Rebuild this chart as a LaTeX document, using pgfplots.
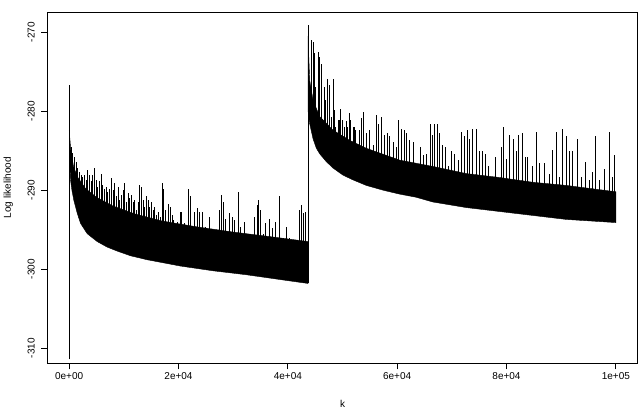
\documentclass[border=0pt]{standalone}
\usepackage{pgfplots}
\pgfplotsset{compat=1.18}
\usepackage{fontspec}
\setmainfont{Liberation Sans}
\begin{document}
\begin{tikzpicture}[font=\fontsize{10bp}{12bp}\selectfont]
\useasboundingbox (0,0) rectangle (644bp,418bp);
\begin{axis}[
  at={(47.3bp,54.7bp)}, anchor=south west,
  scale only axis, width=590.4bp, height=351bp,
  xmin=-4000, xmax=104000, ymin=-311.9, ymax=-267.5,
  axis line style={line width=0.75bp},
  tick pos=left, tick align=outside, major tick length=6bp,
  tick style={line width=0.75bp, black},
  xtick={0,20000,40000,60000,80000,100000},
  xticklabels={0e+00,2e+04,4e+04,6e+04,8e+04,1e+05},
  scaled x ticks=false,
  ytick={-310,-300,-290,-280,-270},
  yticklabels={-310,-300,-290,-280,-270},
  xticklabel style={anchor=north},
  yticklabel style={rotate=90, anchor=south},
  yticklabel shift=3bp,
  xlabel={k},
  xlabel style={at={(axis description cs:0.5,-0.1168)}, anchor=center},
  ylabel={Log likelihood},
  ylabel style={at={(axis description cs:-0.066,0.5)}, anchor=center},
  unbounded coords=jump,
  clip=true,
]
% dense band, first run
\addplot[fill=black, draw=black, line width=0.4bp] coordinates {
(6,-282.4) (300,-285) (800,-287) (1500,-288.3) (3000,-289.8) (5000,-290.9) (8000,-292)
(12000,-293) (17000,-293.9) (23000,-294.6) (30000,-295.3) (37000,-295.9) (43689,-296.5)
(43689,-301.8) (38516,-301.3) (32430,-300.7) (26323,-300.2) (20360,-299.6) (17312,-299.2)
(14258,-298.8) (11224,-298.3) (8774,-297.7) (6946,-297.2) (5124,-296.5) (3297,-295.5)
(2078,-294.2) (1468,-292.9) (859,-291.3) (500,-290.0) (250,-288.7) (100,-286) (6,-282.4)
} -- cycle;
% dense band, second run
\addplot[fill=black, draw=black, line width=0.4bp] coordinates {
(43700,-270.5) (43850,-273.5) (44000,-276.1) (44609,-278.6) (45828,-280.7) (48265,-282.4)
(51312,-283.7) (54358,-284.7) (60451,-286.2) (66544,-287.0) (72637,-287.9) (78730,-288.4)
(84823,-289.0) (90916,-289.4) (100000,-290.2)
(100000,-294.1) (90916,-293.7) (84823,-293.2) (78730,-292.7) (72637,-292.2) (66544,-291.5)
(63498,-290.9) (60451,-290.5) (57405,-290.0) (54358,-289.4) (51921,-288.7) (50093,-288.1)
(48265,-287.2) (47046,-286.4) (45828,-285.4) (45219,-284.7) (44609,-283.5) (44000,-281.6)
(43700,-280)
} -- cycle;
% initial drop and jump
\addplot[black, line width=0.7bp] coordinates {
(0,-311.4) (0,-276.7) (0,nan)
(43693,-301.8) (43693,-269.1) (43693,nan)
};
% spikes
\addplot[black, line width=0.85bp] coordinates {
(371,-287.5)(371,-284.5)(371,nan)
(676,-287.5)(676,-285.3)(676,nan)
(981,-287.5)(981,-285.8)(981,nan)
(1285,-290)(1285,-286.4)(1285,nan)
(1590,-290)(1590,-287.2)(1590,nan)
(1895,-290)(1895,-287.7)(1895,nan)
(2199,-291.5)(2199,-288.1)(2199,nan)
(2504,-291.5)(2504,-288.3)(2504,nan)
(2808,-291.5)(2808,-288.1)(2808,nan)
(3113,-291.5)(3113,-288.7)(3113,nan)
(3418,-291.5)(3418,-287.5)(3418,nan)
(3723,-291.5)(3723,-288.1)(3723,nan)
(4027,-291.5)(4027,-288.9)(4027,nan)
(4332,-291.5)(4332,-288.1)(4332,nan)
(4637,-293)(4637,-287.2)(4637,nan)
(4941,-293)(4941,-288.7)(4941,nan)
(5246,-293)(5246,-289.6)(5246,nan)
(5551,-293)(5551,-288.9)(5551,nan)
(5855,-293)(5855,-287.9)(5855,nan)
(6160,-293)(6160,-289.3)(6160,nan)
(6464,-293)(6464,-289.8)(6464,nan)
(6769,-293)(6769,-289.6)(6769,nan)
(7074,-293)(7074,-290.2)(7074,nan)
(7378,-293)(7378,-289.8)(7378,nan)
(7744,-293)(7744,-288.5)(7744,nan)
(8049,-293)(8049,-290.0)(8049,nan)
(8353,-293)(8353,-289.1)(8353,nan)
(8658,-293)(8658,-290.8)(8658,nan)
(8963,-293)(8963,-289.6)(8963,nan)
(9267,-293)(9267,-291.2)(9267,nan)
(9572,-293)(9572,-290.6)(9572,nan)
(9877,-293)(9877,-290.0)(9877,nan)
(10181,-293)(10181,-289.1)(10181,nan)
(10486,-294.5)(10486,-291.5)(10486,nan)
(10790,-294.5)(10790,-290.4)(10790,nan)
(11095,-294.5)(11095,-291.0)(11095,nan)
(11400,-294.5)(11400,-290.6)(11400,nan)
(11704,-294.5)(11704,-291.5)(11704,nan)
(12009,-294.5)(12009,-291.2)(12009,nan)
(12314,-294.5)(12314,-292.5)(12314,nan)
(12618,-294.5)(12618,-291.5)(12618,nan)
(12923,-294.5)(12923,-289.3)(12923,nan)
(13228,-294.5)(13228,-289.6)(13228,nan)
(13532,-294.5)(13532,-291.2)(13532,nan)
(13837,-294.5)(13837,-292.1)(13837,nan)
(14142,-294.5)(14142,-290.8)(14142,nan)
(14446,-294.5)(14446,-291.2)(14446,nan)
(14751,-294.5)(14751,-292.1)(14751,nan)
(15056,-294.5)(15056,-291.5)(15056,nan)
(15360,-294.5)(15360,-292.5)(15360,nan)
(15665,-294.5)(15665,-292.1)(15665,nan)
(15969,-294.5)(15969,-293.1)(15969,nan)
(16274,-294.5)(16274,-292.7)(16274,nan)
(16701,-295.5)(16701,-293.4)(16701,nan)
(17066,-295.5)(17066,-289.1)(17066,nan)
(17310,-295.5)(17310,-289.8)(17310,nan)
(17615,-295.5)(17615,-292.5)(17615,nan)
(18224,-295.5)(18224,-291.7)(18224,nan)
(18529,-295.5)(18529,-292.1)(18529,nan)
(18834,-295.5)(18834,-293.1)(18834,nan)
(19139,-295.5)(19139,-293.8)(19139,nan)
(19748,-295.5)(19748,-294.0)(19748,nan)
(20357,-295.5)(20357,-292.7)(20357,nan)
(20541,-295.5)(20541,-292.7)(20541,nan)
(21150,-295.5)(21150,-294.2)(21150,nan)
(21759,-295.5)(21759,-289.8)(21759,nan)
(22186,-295.5)(22186,-290.8)(22186,nan)
(22551,-295.5)(22551,-294.6)(22551,nan)
(22978,-296)(22978,-292.7)(22978,nan)
(23404,-296)(23404,-292.3)(23404,nan)
(23892,-296)(23892,-292.7)(23892,nan)
(24379,-296)(24379,-292.7)(24379,nan)
(24928,-296)(24928,-294.6)(24928,nan)
(25598,-296)(25598,-293.4)(25598,nan)
(26146,-296)(26146,-295.0)(26146,nan)
(26816,-296)(26816,-295.0)(26816,nan)
(27426,-296)(27426,-292.5)(27426,nan)
(27791,-296)(27791,-290.6)(27791,nan)
(28157,-296)(28157,-291.5)(28157,nan)
(28644,-296)(28644,-293.6)(28644,nan)
(29376,-297)(29376,-292.9)(29376,nan)
(29863,-297)(29863,-293.4)(29863,nan)
(30289,-297)(30289,-293.8)(30289,nan)
(30899,-297)(30899,-290.2)(30899,nan)
(31386,-297)(31386,-294.6)(31386,nan)
(31995,-297)(31995,-294.0)(31995,nan)
(32727,-297)(32727,-295.7)(32727,nan)
(33336,-297)(33336,-295.7)(33336,nan)
(33945,-297)(33945,-293.4)(33945,nan)
(34372,-297)(34372,-291.9)(34372,nan)
(34616,-297)(34616,-291.3)(34616,nan)
(34981,-297)(34981,-292.5)(34981,nan)
(35469,-297.5)(35469,-295.5)(35469,nan)
(35956,-297.5)(35956,-294.2)(35956,nan)
(36565,-297.5)(36565,-293.6)(36565,nan)
(37175,-297.5)(37175,-294.8)(37175,nan)
(37784,-297.5)(37784,-294.0)(37784,nan)
(38393,-297.5)(38393,-290.8)(38393,nan)
(38698,-297.5)(38698,-296.3)(38698,nan)
(39245,-297.5)(39245,-296.1)(39245,nan)
(39734,-297.5)(39734,-294.6)(39734,nan)
(40343,-297.5)(40343,-296.1)(40343,nan)
(40952,-297.5)(40952,-296.3)(40952,nan)
(41562,-297.5)(41562,-296.3)(41562,nan)
(42171,-297.5)(42171,-292.5)(42171,nan)
(42476,-297.5)(42476,-291.9)(42476,nan)
(42902,-297.5)(42902,-292.9)(42902,nan)
(43268,-297.5)(43268,-292.7)(43268,nan)
(44305,-279)(44305,-271.0)(44305,nan)
(44609,-279)(44609,-271.2)(44609,nan)
(44914,-282)(44914,-272.7)(44914,nan)
(45097,-282)(45097,-276.9)(45097,nan)
(45523,-282)(45523,-272.5)(45523,nan)
(45828,-282)(45828,-273.1)(45828,nan)
(46132,-284)(46132,-274.0)(46132,nan)
(46620,-284)(46620,-276.9)(46620,nan)
(46925,-284)(46925,-278.6)(46925,nan)
(47229,-284)(47229,-275.9)(47229,nan)
(47534,-284)(47534,-276.7)(47534,nan)
(47960,-284)(47960,-280.7)(47960,nan)
(48265,-284)(48265,-275.9)(48265,nan)
(48448,-285.5)(48448,-279.9)(48448,nan)
(48753,-285.5)(48753,-282.0)(48753,nan)
(49179,-285.5)(49179,-281.1)(49179,nan)
(49362,-285.5)(49362,-281.1)(49362,nan)
(49666,-285.5)(49666,-279.7)(49666,nan)
(49971,-285.5)(49971,-281.1)(49971,nan)
(50398,-285.5)(50398,-282.0)(50398,nan)
(50702,-285.5)(50702,-281.3)(50702,nan)
(50885,-285.5)(50885,-282.0)(50885,nan)
(51190,-285.5)(51190,-280.3)(51190,nan)
(51494,-285.5)(51494,-281.1)(51494,nan)
(51921,-285.5)(51921,-282.0)(51921,nan)
(52104,-286.5)(52104,-282.0)(52104,nan)
(52408,-286.5)(52408,-282.4)(52408,nan)
(53018,-286.5)(53018,-282.4)(53018,nan)
(53444,-286.5)(53444,-280.9)(53444,nan)
(53871,-286.5)(53871,-280.1)(53871,nan)
(54358,-286.5)(54358,-282.8)(54358,nan)
(54967,-286.5)(54967,-282.4)(54967,nan)
(55577,-286.5)(55577,-284.3)(55577,nan)
(56186,-288)(56186,-280.5)(56186,nan)
(56612,-288)(56612,-281.6)(56612,nan)
(57100,-288)(57100,-280.7)(57100,nan)
(57709,-288)(57709,-283.0)(57709,nan)
(58136,-288)(58136,-282.8)(58136,nan)
(58623,-288)(58623,-283.2)(58623,nan)
(59354,-288)(59354,-283.9)(59354,nan)
(59842,-288)(59842,-284.5)(59842,nan)
(60268,-288)(60268,-281.1)(60268,nan)
(60756,-288)(60756,-282.2)(60756,nan)
(61243,-288)(61243,-282.4)(61243,nan)
(61670,-288)(61670,-282.8)(61670,nan)
(62279,-289)(62279,-283.7)(62279,nan)
(62888,-289)(62888,-283.9)(62888,nan)
(63802,-289)(63802,-287.0)(63802,nan)
(64229,-289)(64229,-284.5)(64229,nan)
(64838,-289)(64838,-285.6)(64838,nan)
(65325,-289)(65325,-285.4)(65325,nan)
(66057,-289)(66057,-281.6)(66057,nan)
(66422,-289)(66422,-283.0)(66422,nan)
(66849,-289)(66849,-281.6)(66849,nan)
(67336,-289)(67336,-281.6)(67336,nan)
(67763,-289)(67763,-282.8)(67763,nan)
(68250,-289)(68250,-284.3)(68250,nan)
(68798,-289)(68798,-284.5)(68798,nan)
(69286,-289)(69286,-287.0)(69286,nan)
(69895,-289)(69895,-285.1)(69895,nan)
(70504,-290)(70504,-285.4)(70504,nan)
(71114,-290)(71114,-286.2)(71114,nan)
(71845,-290)(71845,-282.6)(71845,nan)
(72332,-290)(72332,-283.2)(72332,nan)
(72820,-290)(72820,-282.4)(72820,nan)
(73246,-290)(73246,-283.5)(73246,nan)
(73734,-290)(73734,-282.2)(73734,nan)
(74465,-290)(74465,-282.2)(74465,nan)
(75074,-290)(75074,-285.1)(75074,nan)
(75562,-290)(75562,-285.0)(75562,nan)
(76171,-290)(76171,-285.4)(76171,nan)
(76781,-290)(76781,-287.0)(76781,nan)
(77390,-290)(77390,-288.5)(77390,nan)
(78000,-290)(78000,-285.8)(78000,nan)
(78426,-290)(78426,-288.5)(78426,nan)
(79035,-290)(79035,-284.5)(79035,nan)
(79461,-290)(79461,-282.0)(79461,nan)
(80071,-290.5)(80071,-286.0)(80071,nan)
(80558,-290.5)(80558,-283.0)(80558,nan)
(81289,-290.5)(81289,-283.5)(81289,nan)
(81777,-290.5)(81777,-285.1)(81777,nan)
(82264,-290.5)(82264,-283.0)(82264,nan)
(82873,-290.5)(82873,-282.8)(82873,nan)
(83483,-290.5)(83483,-285.8)(83483,nan)
(83909,-290.5)(83909,-285.8)(83909,nan)
(84823,-290.5)(84823,-287.0)(84823,nan)
(85432,-290.5)(85432,-282.6)(85432,nan)
(86042,-290.5)(86042,-286.6)(86042,nan)
(86956,-290.5)(86956,-286.6)(86956,nan)
(87870,-290.5)(87870,-287.9)(87870,nan)
(88479,-290.5)(88479,-284.9)(88479,nan)
(89088,-290.5)(89088,-282.6)(89088,nan)
(89697,-290.5)(89697,-288.3)(89697,nan)
(90307,-291.5)(90307,-282.2)(90307,nan)
(90916,-291.5)(90916,-283.2)(90916,nan)
(91525,-291.5)(91525,-285.1)(91525,nan)
(92135,-291.5)(92135,-285.0)(92135,nan)
(93049,-291.5)(93049,-283.5)(93049,nan)
(93658,-291.5)(93658,-288.3)(93658,nan)
(94450,-291.5)(94450,-286.4)(94450,nan)
(95181,-291.5)(95181,-288.7)(95181,nan)
(95791,-291.5)(95791,-287.7)(95791,nan)
(96278,-291.5)(96278,-283.2)(96278,nan)
(97009,-291.5)(97009,-288.7)(97009,nan)
(97923,-291.5)(97923,-287.3)(97923,nan)
(98837,-291.5)(98837,-282.6)(98837,nan)
(99446,-291.5)(99446,-288.3)(99446,nan)
(99751,-291.5)(99751,-285.6)(99751,nan)
};
\end{axis}
\end{tikzpicture}
\end{document}
